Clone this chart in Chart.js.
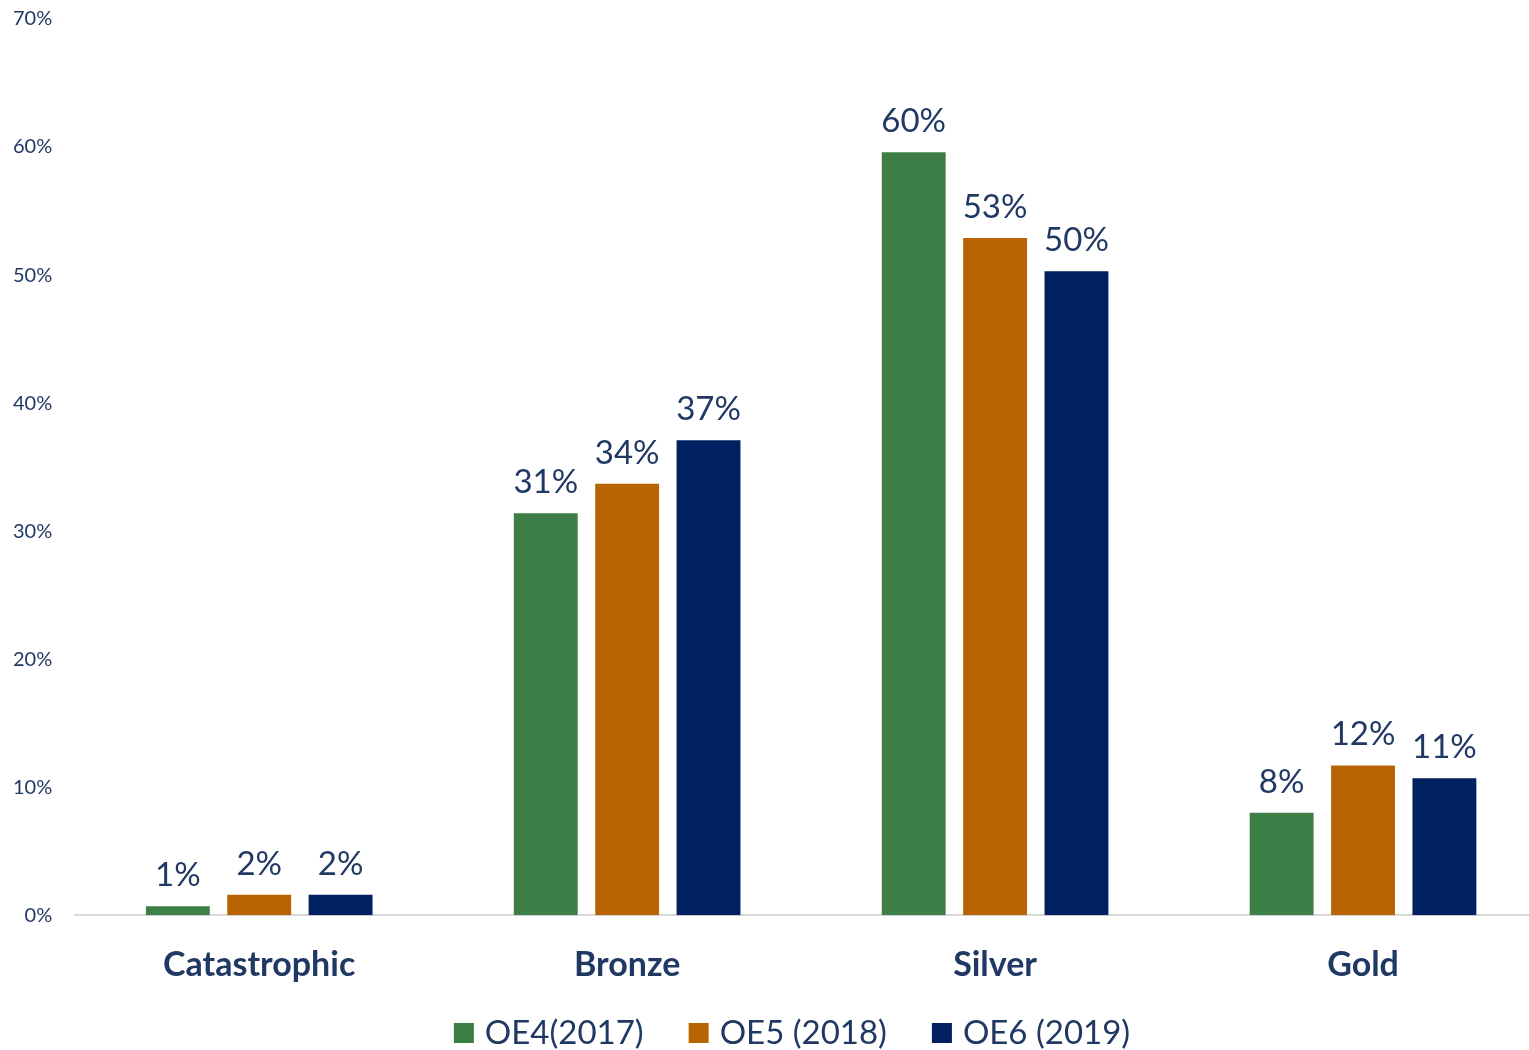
<!DOCTYPE html>
<html>
<head>
<meta charset="utf-8">
<script src="https://cdn.jsdelivr.net/npm/chart.js@4/dist/chart.umd.min.js"></script>
<style>
  html, body { margin: 0; padding: 0; background: #ffffff; overflow: hidden; }
  #wrap { position: relative; width: 1584px; height: 1050px; }
</style>
</head>
<body>
<div id="wrap"><canvas id="c"></canvas></div>
<script>
const categories = ["Catastrophic", "Bronze", "Silver", "Gold"];
const seriesNames = ["OE4(2017)", "OE5 (2018)", "OE6 (2019)"];
const oe4 = [0.7, 31.4, 59.6, 8.0];
const oe5 = [1.6, 33.7, 52.9, 11.7];
const oe6 = [1.6, 37.1, 50.3, 10.7];
const yTicks = [0, 10, 20, 30, 40, 50, 60, 70];
const colors = ["#3D7D46", "#B86405", "#002060"];
const textColor = "#203864";

const labelPlugin = {
  id: "barLabels",
  afterDatasetsDraw(chart) {
    const ctx = chart.ctx;
    ctx.save();
    ctx.font = "33px Lato";
    ctx.fillStyle = textColor;
    ctx.textAlign = "center";
    ctx.textBaseline = "alphabetic";
    chart.data.datasets.forEach((ds, i) => {
      const meta = chart.getDatasetMeta(i);
      meta.data.forEach((bar, j) => {
        ctx.fillText(Math.round(ds.data[j]) + "%", bar.x, bar.y - 20);
      });
    });
    ctx.restore();
  }
};

const legendPlugin = {
  id: "bottomLegend",
  afterDraw(chart) {
    const ctx = chart.ctx;
    const box = 20, gapText = 11, gapItem = 45;
    ctx.save();
    ctx.font = "33px Lato";
    const items = chart.data.datasets.map(ds => ({
      text: ds.label, color: ds.backgroundColor, w: ctx.measureText(ds.label).width
    }));
    const total = items.reduce((s, it) => s + box + gapText + it.w, 0) + gapItem * (items.length - 1);
    let x = chart.width / 2 - total / 2;
    const cy = chart.height - 17;
    ctx.textBaseline = "middle";
    ctx.textAlign = "left";
    items.forEach(it => {
      ctx.fillStyle = it.color;
      ctx.fillRect(x, cy - box / 2, box, box);
      ctx.fillStyle = textColor;
      ctx.fillText(it.text, x + box + gapText, cy);
      x += box + gapText + it.w + gapItem;
    });
    ctx.restore();
  }
};

new Chart(document.getElementById("c"), {
  type: "bar",
  data: {
    labels: categories,
    datasets: [oe4, oe5, oe6].map((d, i) => ({
      label: seriesNames[i],
      data: d,
      backgroundColor: colors[i],
      borderWidth: 0,
      categoryPercentage: 0.6635,
      barPercentage: 0.785
    }))
  },
  options: {
    responsive: true,
    maintainAspectRatio: false,
    animation: false,
    layout: { padding: { top: 19, right: 37, left: -10, bottom: 36 } },
    plugins: {
      legend: { display: false },
      tooltip: { enabled: false }
    },
    scales: {
      x: {
        grid: { display: false, drawTicks: false },
        border: { display: true, color: "#D9D9D9", width: 2 },
        ticks: {
          font: { family: "Lato", size: 34, weight: "bold" },
          color: textColor,
          padding: 29
        }
      },
      y: {
        min: 0,
        max: 70,
        afterFit(scale) { scale.paddingTop = 0; },
        afterBuildTicks(axis) { axis.ticks = yTicks.map(v => ({ value: v })); },
        grid: { display: false, drawTicks: false },
        border: { display: false },
        ticks: {
          font: { family: "Lato", size: 20 },
          color: textColor,
          padding: 23,
          callback: v => v + "%"
        }
      }
    }
  },
  plugins: [labelPlugin, legendPlugin]
});
</script>
</body>
</html>
